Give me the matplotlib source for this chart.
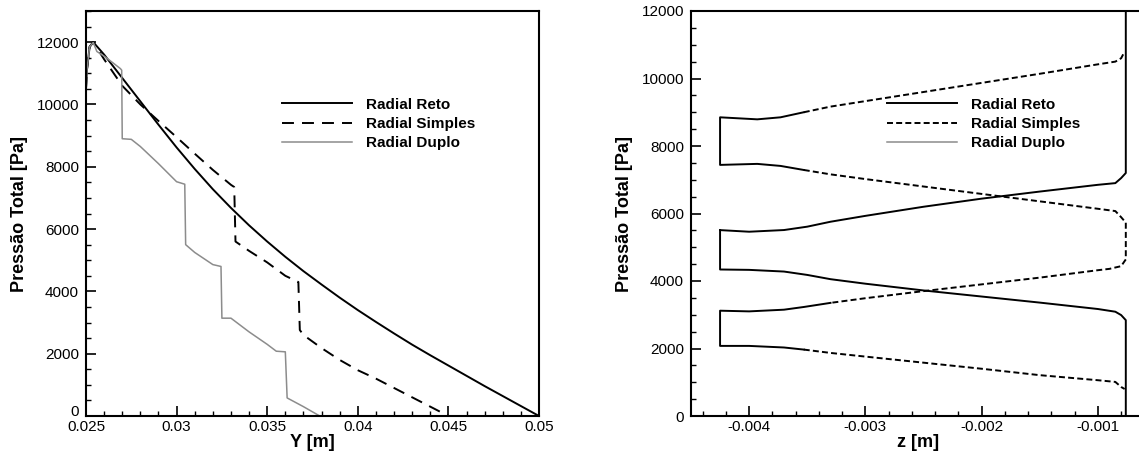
import matplotlib
matplotlib.use('Agg')
import matplotlib.pyplot as plt
import matplotlib.transforms as mtransforms
from matplotlib.ticker import MultipleLocator

plt.rcParams['font.family'] = ['Liberation Sans', 'DejaVu Sans']
plt.rcParams['lines.scale_dashes'] = False

# ---------- dados: grafico esquerdo (Y [m] x pressao total) ----------
reto_y = [0.0250, 0.02505, 0.0252, 0.0254, 0.0260, 0.0270, 0.0280, 0.0290, 0.0300,
          0.0310, 0.0320, 0.0330, 0.0340, 0.0350, 0.0360, 0.0370, 0.0380, 0.0390,
          0.0400, 0.0410, 0.0420, 0.0430, 0.0440, 0.0450, 0.0460, 0.0470, 0.0480,
          0.0490, 0.0500]
reto_p = [10500, 11100, 11850, 12000, 11600, 10850, 10100, 9350, 8620,
          7930, 7280, 6680, 6120, 5600, 5110, 4650, 4220, 3800,
          3400, 3020, 2650, 2290, 1950, 1620, 1290, 960, 640,
          320, 0]

simples_y = [0.0250, 0.02505, 0.0252, 0.0254, 0.0260, 0.0270, 0.0280, 0.0290, 0.0300,
             0.0310, 0.0320, 0.0330, 0.03318, 0.03325, 0.0340, 0.0350, 0.0360, 0.03672,
             0.0368, 0.0370, 0.0380, 0.0390, 0.0400, 0.0410, 0.0420, 0.0430, 0.0440,
             0.0450]
simples_p = [10500, 11100, 11850, 12000, 11450, 10600, 10000, 9470, 8950,
             8420, 7900, 7420, 7350, 5600, 5300, 4930, 4500, 4300,
             2760, 2600, 2180, 1800, 1470, 1200, 900, 600, 300,
             0]

duplo_y = [0.0250, 0.02505, 0.0252, 0.0254, 0.0256, 0.0260, 0.0265, 0.0269, 0.02697,
           0.0270, 0.0275, 0.0280, 0.0290, 0.0300, 0.03045, 0.0305, 0.0310, 0.0320,
           0.03245, 0.0325, 0.0330, 0.0340, 0.0350, 0.0355, 0.0360, 0.0361, 0.0370,
           0.0379]
duplo_p = [10500, 11100, 11850, 11990, 11700, 11550, 11330, 11150, 11100,
           8900, 8880, 8650, 8100, 7520, 7440, 5500, 5250, 4860,
           4800, 3140, 3140, 2700, 2300, 2080, 2060, 580, 300,
           0]

# ---------- dados: grafico direito (z [m] x pressao total) ----------
# Radial Reto (linha cheia)
reto_capa_sup_z = [-0.00353, -0.00373, -0.00393, -0.00425, -0.00425, -0.00393, -0.00373, -0.00353]
reto_capa_sup_p = [9000, 8850, 8790, 8850, 7440, 7470, 7410, 7290]

reto_meio_sup_z = [-0.00425, -0.0040, -0.0037, -0.0035, -0.0033, -0.0030, -0.0025, -0.0020,
                   -0.0015, -0.0010, -0.00085, -0.0008, -0.00076, -0.00076]
reto_meio_sup_p = [5508, 5460, 5510, 5610, 5756, 5930, 6200, 6440,
                   6650, 6850, 6900, 7050, 7200, 13000]

reto_meio_inf_z = [-0.00425, -0.00425, -0.0040, -0.0037, -0.0035, -0.0033, -0.0030, -0.0025,
                   -0.0020, -0.0015, -0.0010, -0.00085, -0.0008, -0.00076, -0.00076]
reto_meio_inf_p = [5508, 4341, 4330, 4280, 4180, 4054, 3920, 3720,
                   3540, 3360, 3170, 3090, 2990, 2840, 0]

reto_capa_inf_z = [-0.00330, -0.00353, -0.0037, -0.0040, -0.00425, -0.00425, -0.0040, -0.0037, -0.00353]
reto_capa_inf_p = [3352, 3230, 3150, 3100, 3120, 2077, 2077, 2030, 1968]

# Radial Simples (tracejada)
simp_sup_z = [-0.00353, -0.0033, -0.0030, -0.0025, -0.0020, -0.0015, -0.0010,
              -0.00085, -0.0008, -0.00077]
simp_sup_p = [9000, 9167, 9330, 9600, 9870, 10140, 10420,
              10500, 10600, 10800]

simp_meio_z = [-0.00353, -0.0033, -0.0030, -0.0025, -0.0020, -0.0015, -0.0010, -0.00085,
               -0.0008, -0.00076, -0.00076, -0.0008, -0.0009, -0.0010, -0.0015, -0.0020,
               -0.0025, -0.0030, -0.0033]
simp_meio_p = [7290, 7160, 7020, 6800, 6580, 6360, 6140, 6072,
               5890, 5730, 4640, 4440, 4360, 4320, 4100, 3900,
               3700, 3490, 3352]

simp_inf_z = [-0.00353, -0.0033, -0.0030, -0.0025, -0.0020, -0.0015, -0.0010,
              -0.00085, -0.0008, -0.00077]
simp_inf_p = [1968, 1869, 1760, 1580, 1400, 1210, 1060,
              1010, 860, 800]

labels = ['Radial Reto', 'Radial Simples', 'Radial Duplo']
cinza = '#8c8c8c'

fig = plt.figure(figsize=(11.39, 4.54), dpi=100)
W, H = 1139.0, 454.0
ax1 = fig.add_axes([86 / W, (H - 416) / H, 453 / W, 405 / H])
ax2 = fig.add_axes([691 / W, (H - 416) / H, 453.4 / W, 405 / H])


def estilo(ax):
    for s in ax.spines.values():
        s.set_linewidth(1.5)
    ax.tick_params(which='both', direction='in', top=False, right=False,
                   labelsize=11, width=1.2)
    ax.tick_params(axis='y', which='both', pad=5)
    ax.tick_params(axis='x', which='both', pad=3)
    ax.tick_params(which='major', length=7)
    ax.tick_params(which='minor', length=3.5, width=1.0)


def legenda(ax):
    ax.legend(loc='upper left', bbox_to_anchor=(0.432, 0.786), frameon=False,
              prop={'size': 11, 'weight': 'bold'}, handlelength=4.6,
              handletextpad=0.9, labelspacing=0.35, borderpad=0, borderaxespad=0)


# grafico esquerdo
ax1.plot(reto_y, reto_p, color='black', lw=1.4, label=labels[0])
ax1.plot(simples_y, simples_p, color='black', lw=1.4, dashes=(8.6, 5.8), label=labels[1])
ax1.plot(duplo_y, duplo_p, color=cinza, lw=1.1, label=labels[2])
ax1.set_xlim(0.025, 0.05)
ax1.set_ylim(0, 13000)
ax1.set_xticks([0.025, 0.03, 0.035, 0.04, 0.045, 0.05])
ax1.set_xticklabels(['0.025', '0.03', '0.035', '0.04', '0.045', '0.05'])
ax1.xaxis.set_minor_locator(MultipleLocator(0.001))
ax1.set_yticks(range(0, 12001, 2000))
ax1.yaxis.set_minor_locator(MultipleLocator(500))
estilo(ax1)
ax1.set_xlabel('Y [m]', fontsize=13, fontweight='bold', labelpad=0)
ax1.set_ylabel('Pressão Total [Pa]', fontsize=13, fontweight='bold', labelpad=6)
legenda(ax1)

# o "0" do eixo y fica um pouco acima, como no original
zero = ax1.get_yticklabels()[0]
zero.set_transform(zero.get_transform() +
                   mtransforms.ScaledTranslation(0, 4 / 72, fig.dpi_scale_trans))

# grafico direito
ax2.plot(reto_capa_sup_z, reto_capa_sup_p, color='black', lw=1.4, label=labels[0])
ax2.plot(reto_meio_sup_z, reto_meio_sup_p, color='black', lw=1.4)
ax2.plot(reto_meio_inf_z, reto_meio_inf_p, color='black', lw=1.4)
ax2.plot(reto_capa_inf_z, reto_capa_inf_p, color='black', lw=1.4)
ax2.plot(simp_sup_z, simp_sup_p, color='black', lw=1.4, dashes=(4.3, 2.3), label=labels[1])
ax2.plot(simp_meio_z, simp_meio_p, color='black', lw=1.4, dashes=(4.3, 2.3))
ax2.plot(simp_inf_z, simp_inf_p, color='black', lw=1.4, dashes=(4.3, 2.3))
ax2.plot([], [], color=cinza, lw=1.1, label=labels[2])
ax2.set_xlim(-0.0045, -0.0006)
ax2.set_ylim(0, 12000)
ax2.set_xticks([-0.004, -0.003, -0.002, -0.001])
ax2.set_xticklabels(['-0.004', '-0.003', '-0.002', '-0.001'])
ax2.xaxis.set_minor_locator(MultipleLocator(0.0002))
ax2.set_yticks(range(0, 12001, 2000))
ax2.yaxis.set_minor_locator(MultipleLocator(500))
estilo(ax2)
ax2.set_xlabel('z [m]', fontsize=13, fontweight='bold', labelpad=0)
ax2.set_ylabel('Pressão Total [Pa]', fontsize=13, fontweight='bold', labelpad=6)
legenda(ax2)

fig.savefig('out.png', dpi=100)
